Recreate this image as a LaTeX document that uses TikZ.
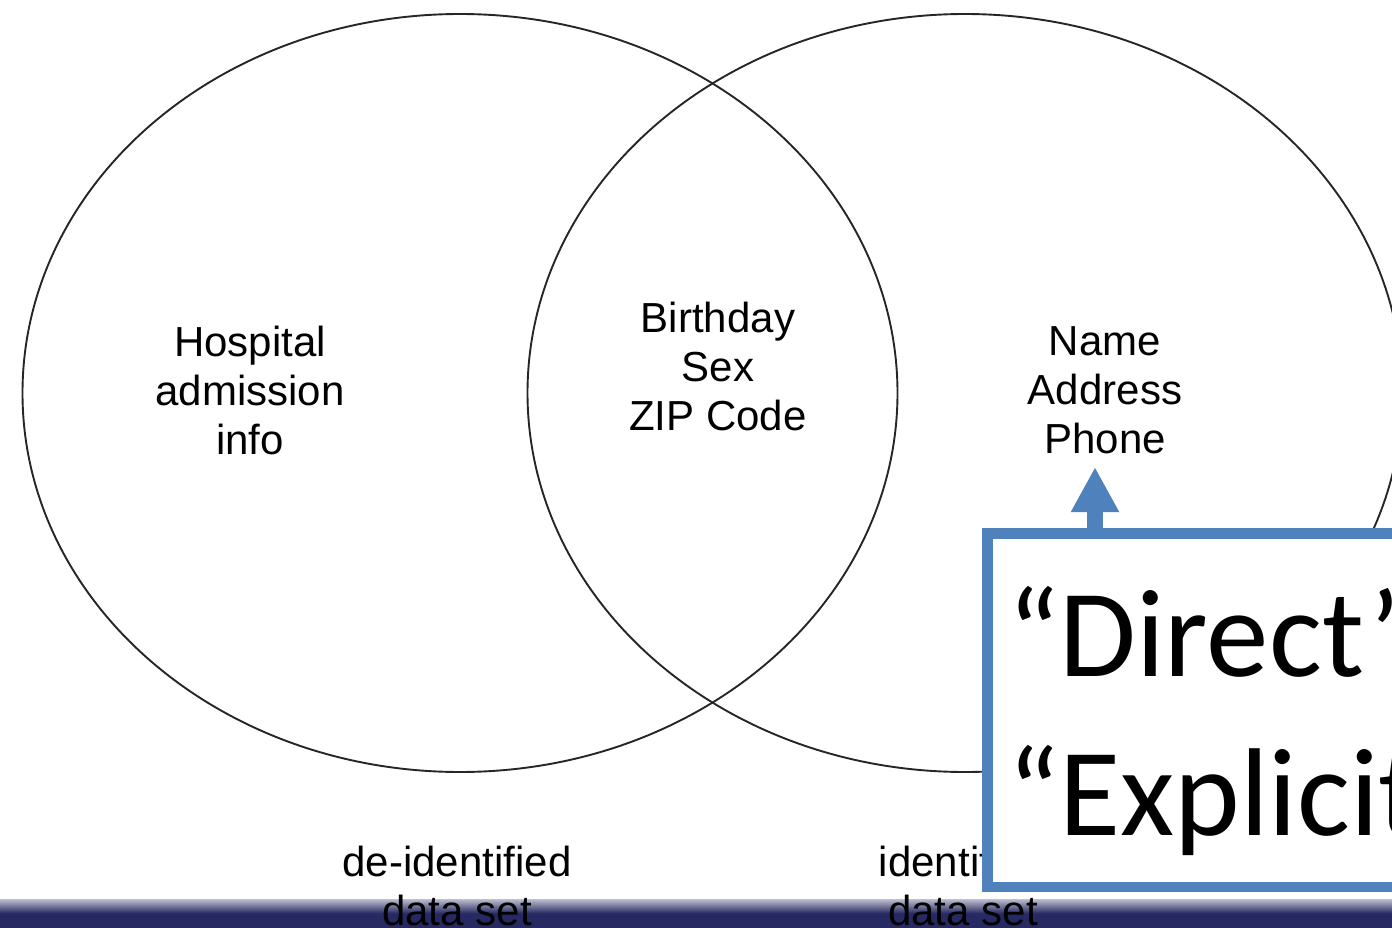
\documentclass[tikz,border=0pt]{standalone}
\usepackage{fontspec}
\setmainfont{Liberation Sans}
\newfontfamily\boxfont{Carlito}
\usetikzlibrary{
  arrows.meta,
  shapes.geometric,
  positioning
}
\definecolor{frameblue}{RGB}{79,129,189}
\definecolor{bandnavy}{RGB}{38,41,98}

\begin{document}
\begin{tikzpicture}[
      x=1pt,y=-1pt,
      dataset/.style={
         ellipse,
         minimum width=875pt,
         minimum height=758pt,
         inner sep=0pt,
         line width=1.9pt,
         draw=black!85
      },
      attr/.style={
         align=center,
         inner sep=0pt,
         font=\fontsize{42}{49}\selectfont
      },
      idframe/.style={
         rectangle,
         anchor=north west,
         minimum width=700pt,
         minimum height=353.5pt,
         line width=10.5pt,
         draw=frameblue,
         fill=white
      },
      bigtext/.style={
         anchor=base west,
         inner sep=0pt,
         font=\boxfont\fontsize{125}{158}\selectfont
      },
      up arrow/.style={
         line width=16pt,draw=frameblue,
         -{Triangle[length=45pt,width=45pt]}
      }
    ]
    \useasboundingbox (0,0) rectangle (1392,928);
    % the two data sets
    \node (deid)  [dataset] at (460,393) {};
    \node (ident) [dataset] at (965,393) {};
    \node (hosp)  [attr] at (250,390) {Hospital\\admission\\info};
    \node (quasi) [attr] at (718,366) {Birthday\\Sex\\ZIP Code};
    \node (direct ids) [attr] at (1105,390) {Name\\Address\\Phone};
    % footer band
    \shade[top color=white!70!bandnavy, bottom color=bandnavy, middle color=bandnavy]
       (0,899) rectangle (1392,928);
    \node (deidlbl)  [attr] at (457,886) {de-identified\\data set};
    \node (identlbl) [attr] at (963,886) {identified\\data set};
    % callout
    \node (idbox) [idframe] at (982,528) {};
    \node (direct)   [bigtext] at (1007,676) {“Direct”};
    \node (explicit) [bigtext, below=0pt of direct.base west, anchor=base west, yshift=-159pt] {“Explicit”};
    \coordinate (tip) at (1095,467);
    \draw[up arrow] ([xshift=113pt,yshift=-5pt]idbox.north west) -- (tip);
\end{tikzpicture}
\end{document}
